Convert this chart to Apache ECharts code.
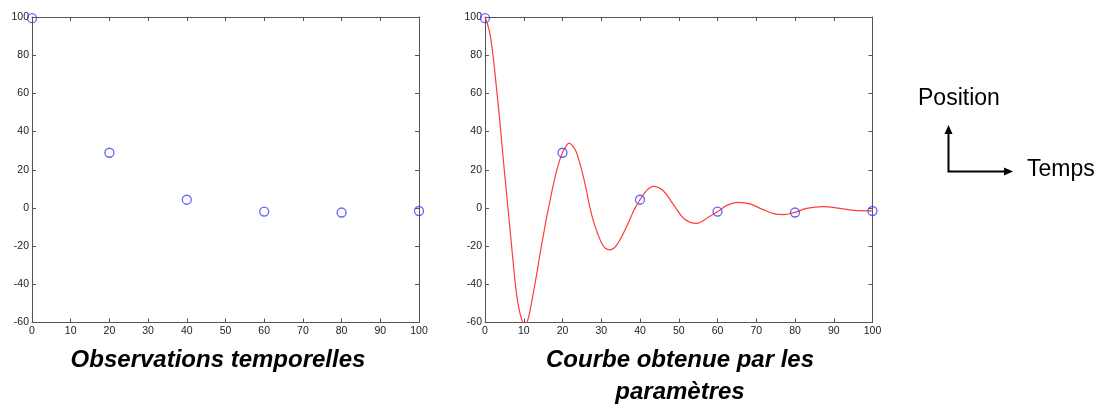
<!DOCTYPE html>
<html><head><meta charset="utf-8">
<script src="https://cdn.jsdelivr.net/npm/echarts@6/dist/echarts.min.js"></script>
<style>html,body{margin:0;padding:0;background:#fff}#c{width:1104px;height:404px}</style>
</head><body><div id="c"></div>
<script>
// Observations (time, position)
const obsTime = [0, 20, 40, 60, 80, 100];
const obsPos = [99.4, 28.9, 4.3, -1.9, -2.4, -1.6];
// Fitted curve
const curveTime = [0, 1.1, 2.0, 2.9, 3.8, 4.6, 5.4, 6.4, 7.2, 7.9, 8.6, 9.4, 10.2, 11.0, 11.8, 12.6, 13.4, 14.2, 15.0, 15.8, 16.6, 17.4, 18.3, 19.2, 20.0, 20.8, 21.7, 22.6, 23.5, 24.4, 25.3, 26.2, 27.1, 28.0, 29.0, 30.0, 31.0, 32.2, 33.3, 34.3, 35.4, 36.5, 37.6, 38.6, 40.0, 41.7, 43.5, 46.0, 48.5, 51.5, 54.6, 57.6, 60.1, 62.3, 65.3, 68.3, 71.8, 74.8, 76.9, 80.0, 83.0, 87.3, 91.6, 95.9, 100];
const curvePos = [100, 93, 81, 64, 46, 28, 11, -10, -27, -41, -51, -58, -61.5, -59, -52, -43, -34, -24, -15, -6, 2, 10, 18, 24.5, 29, 32, 33.9, 32.5, 29.5, 24, 17, 9, 0, -7, -13, -18, -21, -22, -21, -18.5, -14.5, -10, -5, -0.5, 4.3, 9.1, 11.3, 9, 2.1, -5.8, -8.1, -4.9, -1.9, 1.2, 2.9, 2.1, -0.9, -3.1, -3.5, -2.3, -0.2, 0.7, -0.2, -1.4, -1.5];
const xTicks = [0, 10, 20, 30, 40, 50, 60, 70, 80, 90, 100];
const yTicks = [-60, -40, -20, 0, 20, 40, 60, 80, 100];
const titleLeft = 'Observations temporelles';
const titleRight = 'Courbe obtenue par les\nparamètres';
const labelY = 'Position';
const labelX = 'Temps';

const chart = echarts.init(document.getElementById('c'));
const axisCol = '#555';
const font = 'Liberation Sans, Arial, sans-serif';
function xAx(gi, pos, show) {
  return {type: 'value', gridIndex: gi, position: pos, min: xTicks[0], max: xTicks[xTicks.length-1], interval: 10,
    axisLine: {show: true, onZero: false, lineStyle: {color: axisCol, width: 1}},
    axisTick: {show: true, inside: true, length: 4, lineStyle: {color: axisCol}},
    axisLabel: {show: show, color: '#222', fontSize: 10.5, fontFamily: font, margin: 3},
    splitLine: {show: false}};
}
function yAx(gi, pos, show) {
  return {type: 'value', gridIndex: gi, position: pos, min: yTicks[0], max: yTicks[yTicks.length-1], interval: 20,
    axisLine: {show: true, onZero: false, lineStyle: {color: axisCol, width: 1}},
    axisTick: {show: true, inside: true, length: 4, lineStyle: {color: axisCol}},
    axisLabel: {show: show, color: '#222', fontSize: 10.5, fontFamily: font, margin: 3},
    splitLine: {show: false}};
}
const obsData = obsTime.map((t, i) => [t, obsPos[i]]);
const curveData = curveTime.map((t, i) => [t, curvePos[i]]);
const markerStyle = {color: 'transparent', borderColor: '#3c3cff', borderWidth: 1.3};
chart.setOption({
  animation: false,
  grid: [
    {left: 32, top: 17, width: 387, height: 305.5},
    {left: 485, top: 17, width: 387.5, height: 305.5}
  ],
  xAxis: [xAx(0, 'bottom', true), xAx(0, 'top', false), xAx(1, 'bottom', true), xAx(1, 'top', false)],
  yAxis: [yAx(0, 'left', true), yAx(0, 'right', false), yAx(1, 'left', true), yAx(1, 'right', false)],
  series: [
    {type: 'scatter', xAxisIndex: 0, yAxisIndex: 0, data: obsData, symbol: 'circle', symbolSize: 9, itemStyle: markerStyle, clip: false, z: 5},
    {type: 'line', xAxisIndex: 2, yAxisIndex: 2, data: curveData, smooth: 0.4, showSymbol: false, lineStyle: {color: '#ff3b3b', width: 1.2}, clip: true},
    {type: 'scatter', xAxisIndex: 2, yAxisIndex: 2, data: obsData, symbol: 'circle', symbolSize: 9, itemStyle: markerStyle, clip: false, z: 5}
  ],
  graphic: [
    {type: 'text', style: {text: titleLeft, x: 218, y: 360, align: 'center', verticalAlign: 'middle', font: 'italic bold 24px ' + font, fill: '#000'}},
    {type: 'text', style: {text: titleRight, x: 680, y: 376, align: 'center', verticalAlign: 'middle', font: 'italic bold 24px ' + font, fill: '#000', lineHeight: 32}},
    {type: 'text', style: {text: labelY, x: 918, y: 99, align: 'left', verticalAlign: 'middle', font: '23px ' + font, fill: '#000'}},
    {type: 'text', style: {text: labelX, x: 1027, y: 170, align: 'left', verticalAlign: 'middle', font: '23px ' + font, fill: '#000'}},
    {type: 'polyline', shape: {points: [[948.5, 132], [948.5, 171.5], [1005, 171.5]]}, style: {stroke: '#000', lineWidth: 2, fill: null}},
    {type: 'polygon', shape: {points: [[948.5, 125], [944.5, 134], [952.5, 134]]}, style: {fill: '#000'}},
    {type: 'polygon', shape: {points: [[1013, 171.5], [1004, 167.5], [1004, 175.5]]}, style: {fill: '#000'}}
  ]
});
</script></body></html>
